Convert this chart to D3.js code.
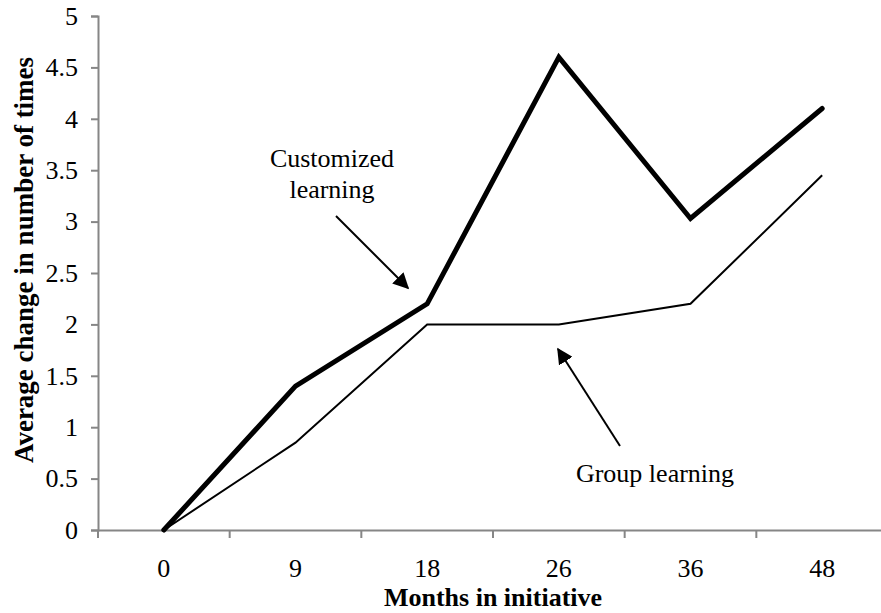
<!DOCTYPE html>
<html>
<head>
<meta charset="utf-8">
<script src="https://cdnjs.cloudflare.com/ajax/libs/d3/7.8.5/d3.min.js"></script>
<style>
    body { margin: 0; background: #fff; }
    text { font-family: "Liberation Serif", "Times New Roman", serif; fill: #000; }
</style>
</head>
<body>
<div id="chart"></div>
<script>
var months = ["0", "9", "18", "26", "36", "48"];
var customized = [0, 1.4, 2.2, 4.6, 3.03, 4.1];
var group = [0, 0.85, 2, 2, 2.2, 3.45];
var yTicks = [0, 0.5, 1, 1.5, 2, 2.5, 3, 3.5, 4, 4.5, 5];

var margin = {
    top: 16,
    left: 98
},
    width = 790,
    height = 514;

var svg = d3.select("#chart").append("svg")
    .attr("width", 881)
    .attr("height", 613)
    .attr("font-family", "Liberation Serif, serif");

var g = svg.append("g")
    .attr("transform", "translate(" + margin.left + "," + margin.top + ")");

var xScale = d3.scaleBand()
    .domain(months)
    .range([0, width]);

var yScale = d3.scaleLinear()
    .domain([0, 5])
    .range([height, 0]);

// y axis
var yAxis = g.append("g")
    .call(d3.axisLeft(yScale).tickValues(yTicks).tickFormat(d3.format("")).tickSizeOuter(0).tickSize(7).tickPadding(13));

// x axis, ticks sit between the categories (excel style)
var xAxis = g.append("g")
    .attr("transform", "translate(0," + height + ")")
    .call(d3.axisBottom(xScale).tickSize(0).tickPadding(29));

xAxis.selectAll(".edge")
    .data(d3.range(months.length + 1))
    .enter().append("line")
    .attr("class", "edge")
    .attr("x1", function (d) { return d * xScale.step(); })
    .attr("x2", function (d) { return d * xScale.step(); })
    .attr("y1", 0)
    .attr("y2", 8)
    .attr("stroke", "#868686")
    .attr("stroke-width", 2);

g.selectAll(".domain, .tick line")
    .attr("stroke", "#868686")
    .attr("stroke-width", 2);

g.selectAll(".tick text")
    .style("font-size", "26px")
    .style("font-family", "Liberation Serif, serif")
    .attr("fill", "#000");

// lines
var line = d3.line()
    .x(function (d, i) { return xScale(months[i]) + xScale.bandwidth() / 2; })
    .y(function (d) { return yScale(d); });

g.append("path")
    .datum(group)
    .attr("fill", "none")
    .attr("stroke", "#000")
    .attr("stroke-width", 2)
    .attr("stroke-linejoin", "miter")
    .attr("d", line);

g.append("path")
    .datum(customized)
    .attr("fill", "none")
    .attr("stroke", "#000")
    .attr("stroke-width", 5)
    .attr("stroke-linejoin", "miter")
    .attr("stroke-linecap", "round")
    .attr("d", line);

// axis titles
svg.append("text")
    .attr("x", margin.left + 395)
    .attr("y", 606)
    .attr("text-anchor", "middle")
    .style("font-size", "26px")
    .style("font-weight", "bold")
    .text("Months in initiative");

svg.append("text")
    .attr("transform", "translate(33,260) rotate(-90)")
    .attr("text-anchor", "middle")
    .style("font-size", "27px")
    .style("font-weight", "bold")
    .text("Average change in number of times");

// annotations
svg.append("defs").append("marker")
    .attr("id", "arrow")
    .attr("viewBox", "0 0 10 10")
    .attr("refX", 9)
    .attr("refY", 5)
    .attr("markerWidth", 8)
    .attr("markerHeight", 8)
    .attr("markerUnits", "strokeWidth")
    .attr("orient", "auto")
    .append("path")
    .attr("d", "M0,0 L10,5 L0,10 z")
    .attr("fill", "#000");

var notes = svg.append("g");

notes.append("text")
    .attr("x", 332)
    .attr("text-anchor", "middle")
    .style("font-size", "26px")
    .selectAll("tspan")
    .data(["Customized", "learning"])
    .enter().append("tspan")
    .attr("x", 332)
    .attr("y", function (d, i) { return 167 + i * 31; })
    .text(function (d) { return d; });

notes.append("line")
    .attr("x1", 336).attr("y1", 216)
    .attr("x2", 408).attr("y2", 288)
    .attr("stroke", "#000")
    .attr("stroke-width", 2)
    .attr("marker-end", "url(#arrow)");

notes.append("text")
    .attr("x", 655)
    .attr("y", 482)
    .attr("text-anchor", "middle")
    .style("font-size", "26px")
    .text("Group learning");

notes.append("line")
    .attr("x1", 620).attr("y1", 446)
    .attr("x2", 558).attr("y2", 349)
    .attr("stroke", "#000")
    .attr("stroke-width", 2)
    .attr("marker-end", "url(#arrow)");
</script>
</body>
</html>
